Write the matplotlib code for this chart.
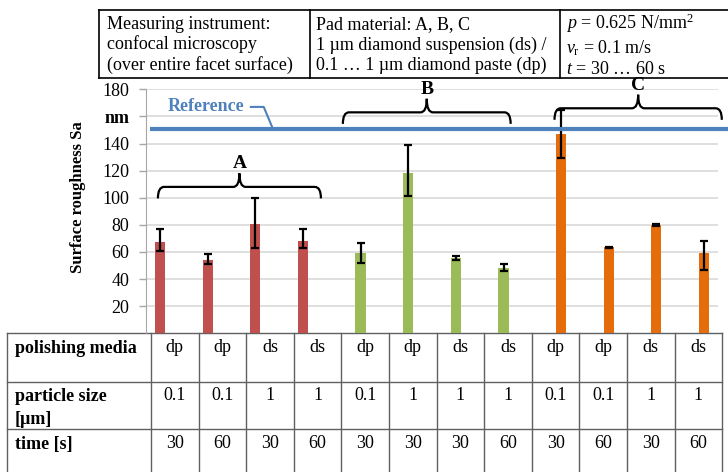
import matplotlib
matplotlib.use("Agg")
import matplotlib.pyplot as plt
from matplotlib.path import Path
from matplotlib.patches import PathPatch

plt.rcParams["font.family"] = ["Liberation Serif", "DejaVu Serif"]
plt.rcParams["mathtext.fontset"] = "custom"
plt.rcParams["mathtext.rm"] = "Liberation Serif"
plt.rcParams["mathtext.it"] = "Liberation Serif:italic"

# ---------------------------------
# Data
# ---------------------------------

groups = ["A", "B", "C"]
group_colors = ["#C0504D", "#9BBB59", "#E46C0A"]
pad_material = ["A", "A", "A", "A", "B", "B", "B", "B", "C", "C", "C", "C"]

polishing_media = ["dp", "dp", "ds", "ds", "dp", "dp", "ds", "ds", "dp", "dp", "ds", "ds"]
particle_size = ["0.1", "0.1", "1", "1", "0.1", "1", "1", "1", "0.1", "0.1", "1", "1"]
time_s = ["30", "60", "30", "60", "30", "30", "30", "60", "30", "60", "30", "60"]

sa_mean = [67, 54, 81, 68, 59.5, 118, 55.3, 48, 147, 63.4, 80, 59.5]
sa_lower = [61, 51, 62.7, 62.7, 51.6, 101.3, 53.8, 46.2, 129.3, 63.0, 79.3, 46.7]
sa_upper = [77, 58.3, 100, 77, 66.8, 138.7, 56.8, 50.9, 164.7, 63.8, 80.5, 68.1]

reference_sa = 151

y_ticks = [20, 40, 60, 80, 100, 120, 140, 160, 180]
y_labels = ["20", "40", "60", "80", "100", "120", "140", "nm", "180"]

row_labels = ["polishing media", "particle size\n[\u00b5m]", "time [s]"]

info_cols = [
    "Measuring instrument:\nconfocal microscopy\n(over entire facet surface)",
    "Pad material: A, B, C\n1 \u00b5m diamond suspension (ds) /\n0.1 \u2026 1 \u00b5m diamond paste (dp)",
    "$p$ = 0.625 N/mm$^2$\n$v_\\mathrm{r}$ = 0.1 m/s\n$t$ = 30 \u2026 60 s",
]

# brace annotations (data coords of the chart)
brace_x0 = [0.25, 4.13, 8.57]
brace_x1 = [3.67, 7.65, 12.08]
brace_y = [108, 163, 166]

# ---------------------------------
# Figure
# ---------------------------------

W, H = 728, 472
fig = plt.figure(figsize=(W / 100, H / 100), dpi=100)
fig.patch.set_facecolor("white")

# pixel-space overlay for the tables
ov = fig.add_axes([0, 0, 1, 1])
ov.set_xlim(0, W)
ov.set_ylim(H, 0)
ov.axis("off")

# main chart
left_px, right_px, top_px, bot_px = 146, 718, 89.3, 333.3
ax = fig.add_axes([left_px / W, (H - bot_px) / H,
                   (right_px - left_px) / W, (bot_px - top_px) / H])
ax.set_xlim(0, 12)
ax.set_ylim(0, 180)
ax.patch.set_alpha(0)

bar_w = 0.21
offset = 0.203
for g, (name, col) in enumerate(zip(groups, group_colors)):
    idx = [i for i, p in enumerate(pad_material) if p == name]
    xs = [i + 0.5 + (g - 1) * offset for i in idx]
    vals = [sa_mean[i] for i in idx]
    lo = [sa_mean[i] - sa_lower[i] for i in idx]
    hi = [sa_upper[i] - sa_mean[i] for i in idx]
    ax.bar(xs, vals, width=bar_w, color=col, zorder=2)
    ax.errorbar(xs, vals, yerr=[lo, hi], fmt="none", ecolor="black",
                elinewidth=1.6, capsize=3, capthick=1.6, zorder=3)

ax.set_yticks(y_ticks)
ax.set_yticklabels(y_labels, fontsize=13)
for lab in ax.get_yticklabels():
    if lab.get_text() == "nm":
        lab.set_fontweight("bold")
ax.set_xticks([])
ax.yaxis.grid(True, color="#D9D9D9", linewidth=1.2, zorder=0)
ax.set_axisbelow(True)
ax.tick_params(axis="y", length=5, width=1, color="#A6A6A6", pad=7)
for s in ["top", "right", "bottom"]:
    ax.spines[s].set_visible(False)
ax.spines["left"].set_color("#A6A6A6")

ax.set_ylabel("Surface roughness Sa", fontsize=12, fontweight="bold")
ax.yaxis.set_label_coords(-0.105, 0.56)

# reference line with callout
ref_col = "#4F81BD"
ax.plot([0.08, 12.3], [reference_sa, reference_sa], color=ref_col, lw=3,
        clip_on=False, zorder=4, solid_capstyle="butt")
ax.text(0.46, 167, "Reference", color=ref_col, fontsize=13, fontweight="bold",
        ha="left", va="center")
ax.plot([2.2, 2.47, 2.66], [167, 167, reference_sa], color=ref_col, lw=1.5,
        clip_on=False)

# braces for pad materials
for name, x0, x1, y in zip(groups, brace_x0, brace_x1, brace_y):
    xm = (x0 + x1) / 2
    rx, dh, tip = 0.13, 8.5, 10
    verts = [(x0, y - dh), (x0, y), (x0 + rx, y),
             (xm - rx, y), (xm, y), (xm, y + tip),
             (xm, y), (xm + rx, y),
             (x1 - rx, y), (x1, y), (x1, y - dh)]
    codes = [Path.MOVETO, Path.CURVE3, Path.CURVE3,
             Path.LINETO, Path.CURVE3, Path.CURVE3,
             Path.CURVE3, Path.CURVE3,
             Path.LINETO, Path.CURVE3, Path.CURVE3]
    ax.add_patch(PathPatch(Path(verts, codes), fill=False, lw=1.6,
                           edgecolor="black", clip_on=False, zorder=5))
    ax.text(xm, y + tip + 7, name, fontsize=14, fontweight="bold",
            ha="center", va="center", clip_on=False)

# ---------------------------------
# Bottom table
# ---------------------------------

line_col = "#606060"
tab_top, tab_bot = 333.3, 472
row_edges = [333.3, 382, 429]
col0, col1, col_w = 7, 151, 47.6
col_edges = [col0] + [col1 + k * col_w for k in range(13)]

for y in row_edges:
    ov.plot([col0, col_edges[-1]], [y, y], color=line_col, lw=1)
for x in col_edges:
    ov.plot([x, x], [tab_top, tab_bot], color=line_col, lw=1)

row_text_y = [348, 396, 444]
row_values = [polishing_media, particle_size, time_s]
for r, (lab, vals, ty) in enumerate(zip(row_labels, row_values, row_text_y)):
    ov.text(15, ty - 8, lab, fontsize=13, fontweight="bold", ha="left",
            va="top", linespacing=1.45)
    for k, v in enumerate(vals):
        xc = col1 + (k + 0.5) * col_w
        ov.text(xc, ty, v, fontsize=13, ha="center", va="center")

# ---------------------------------
# Top info box
# ---------------------------------

box_l, box_r, box_t, box_b = 99, 740, 10, 78
ov.plot([box_l, box_r], [box_t, box_t], color="black", lw=1.2)
ov.plot([box_l, box_r], [box_b, box_b], color="black", lw=1.2)
for x in [box_l, 310, 560]:
    ov.plot([x, x], [box_t, box_b], color="black", lw=1.2)

for x, txt in zip([107, 316, 566], info_cols):
    ov.text(x, 45, txt, fontsize=13, ha="left", va="center", linespacing=1.22)

fig.savefig("out.png", dpi=100)
